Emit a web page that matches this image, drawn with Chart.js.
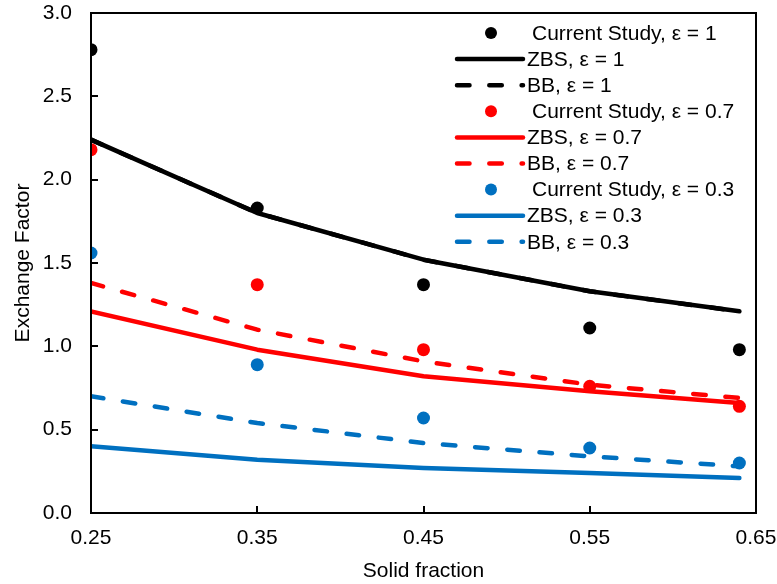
<!DOCTYPE html>
<html>
<head>
<meta charset="utf-8">
<script src="https://cdn.jsdelivr.net/npm/chart.js@4"></script>
<style>
  html, body { margin: 0; padding: 0; background: #fff; }
  #wrap { width: 777px; height: 584px; }
</style>
</head>
<body>
<div id="wrap"><canvas id="plot"></canvas></div>
<script>
// values
const solidFraction = [0.25, 0.35, 0.45, 0.55, 0.64];
const xTicks = [0.25, 0.35, 0.45, 0.55, 0.65];

const studyE1  = [2.78, 1.83, 1.37, 1.11, 0.98];
const zbsE1    = [2.24, 1.80, 1.52, 1.33, 1.21];
const bbE1     = [2.24, 1.80, 1.52, 1.33, 1.21];
const studyE07 = [2.18, 1.37, 0.98, 0.76, 0.64];
const zbsE07   = [1.21, 0.98, 0.82, 0.73, 0.66];
const bbE07    = [1.38, 1.10, 0.91, 0.77, 0.69];
const studyE03 = [1.56, 0.89, 0.57, 0.39, 0.30];
const zbsE03   = [0.40, 0.32, 0.27, 0.24, 0.21];
const bbE03    = [0.70, 0.54, 0.42, 0.34, 0.28];

const BLACK = '#000000', RED = '#ff0000', BLUE = '#0070c0';
const FONT = 'Liberation Sans, Arial, sans-serif';
const LW = 4.5;
const DASH = [12.5, 19.8];

const pts = (ys) => ys.map((y, i) => ({ x: solidFraction[i], y: y }));

function dots(label, ys, color) {
  return { label, data: pts(ys), showLine: false, pointRadius: 6.5, pointHoverRadius: 6.5,
           backgroundColor: color, borderColor: color, pointBorderWidth: 0, kind: 'dot' };
}
function line(label, ys, color, dashed) {
  return { label, data: pts(ys), showLine: true, pointRadius: 0, borderColor: color,
           backgroundColor: color, borderWidth: LW, tension: 0, borderCapStyle: 'round',
           borderJoinStyle: 'round', borderDash: dashed ? DASH : [],
           kind: dashed ? 'dash' : 'solid' };
}

const datasets = [
  dots('Current Study, ε = 1', studyE1, BLACK),
  line('ZBS, ε = 1', zbsE1, BLACK, false),
  line('BB, ε = 1', bbE1, BLACK, true),
  dots('Current Study, ε = 0.7', studyE07, RED),
  line('ZBS, ε = 0.7', zbsE07, RED, false),
  line('BB, ε = 0.7', bbE07, RED, true),
  dots('Current Study, ε = 0.3', studyE03, BLUE),
  line('ZBS, ε = 0.3', zbsE03, BLUE, false),
  line('BB, ε = 0.3', bbE03, BLUE, true)
];
// later series on top, like the spreadsheet
datasets.forEach((d, i) => { d.order = datasets.length - i; });

// frame, inward tick marks and the legend inside the plot
const decor = {
  id: 'decor',
  afterDraw(chart) {
    const ctx = chart.ctx, a = chart.chartArea;
    const xs = chart.scales.x, ys = chart.scales.y;
    ctx.save();
    ctx.strokeStyle = '#000';
    ctx.lineWidth = 2;
    ctx.beginPath();
    xTicks.forEach(v => {
      const px = Math.round(xs.getPixelForValue(v));
      ctx.moveTo(px, a.bottom); ctx.lineTo(px, a.bottom - 7);
    });
    ys.ticks.forEach(t => {
      const py = Math.round(ys.getPixelForValue(t.value));
      ctx.moveTo(a.left, py); ctx.lineTo(a.left + 7, py);
    });
    ctx.stroke();
    ctx.strokeRect(a.left, a.top, a.right - a.left, a.bottom - a.top);

    // legend
    const x0 = 455, x1 = 525, y0 = 33, step = 26.1;
    ctx.font = '21px ' + FONT;
    ctx.textBaseline = 'middle';
    ctx.fillStyle = '#000';
    chart.data.datasets.forEach((d, i) => {
      const y = y0 + i * step;
      ctx.save();
      if (d.kind === 'dot') {
        ctx.fillStyle = d.backgroundColor;
        ctx.beginPath();
        ctx.arc(491, y, 6, 0, Math.PI * 2);
        ctx.fill();
      } else {
        ctx.strokeStyle = d.borderColor;
        ctx.lineWidth = LW;
        ctx.lineCap = 'round';
        ctx.setLineDash(d.borderDash);
        ctx.beginPath();
        ctx.moveTo(x0 + 2, y); ctx.lineTo(x1 - 2, y);
        ctx.stroke();
      }
      ctx.restore();
      ctx.fillText(d.label, d.kind === 'dot' ? 532 : 527, y + 1);
    });
    ctx.restore();
  }
};

new Chart(document.getElementById('plot'), {
  type: 'scatter',
  data: { datasets },
  options: {
    responsive: true,
    maintainAspectRatio: false,
    animation: false,
    layout: { autoPadding: false, padding: { top: 13, right: 21, left: 0, bottom: 0 } },
    plugins: { legend: { display: false }, tooltip: { enabled: false } },
    scales: {
      x: {
        type: 'linear', min: 0.25, max: 0.65,
        afterBuildTicks: (s) => { s.ticks = xTicks.map(v => ({ value: v })); },
        afterFit: (s) => { s.height = 71; },
        // tick marks hidden; their length only spaces the labels
        grid: { display: false, drawTicks: true, tickLength: 13 },
        border: { display: false },
        ticks: { padding: 0, color: '#000', font: { family: FONT, size: 21 },
                 maxRotation: 0, callback: (v) => v.toFixed(2) },
        title: { display: true, text: 'Solid fraction', color: '#000',
                 font: { family: FONT, size: 21 }, padding: { top: 0, bottom: 0 } }
      },
      y: {
        type: 'linear', min: 0, max: 3,
        afterFit: (s) => { s.width = 91; },
        grid: { display: false, drawTicks: true, tickLength: 19 },
        border: { display: false },
        ticks: { stepSize: 0.5, padding: 0, color: '#000', font: { family: FONT, size: 21 },
                 callback: (v) => v.toFixed(1) },
        title: { display: true, text: 'Exchange Factor', color: '#000',
                 font: { family: FONT, size: 21 }, padding: { top: 11, bottom: 0 } }
      }
    }
  },
  plugins: [decor]
});
</script>
</body>
</html>
